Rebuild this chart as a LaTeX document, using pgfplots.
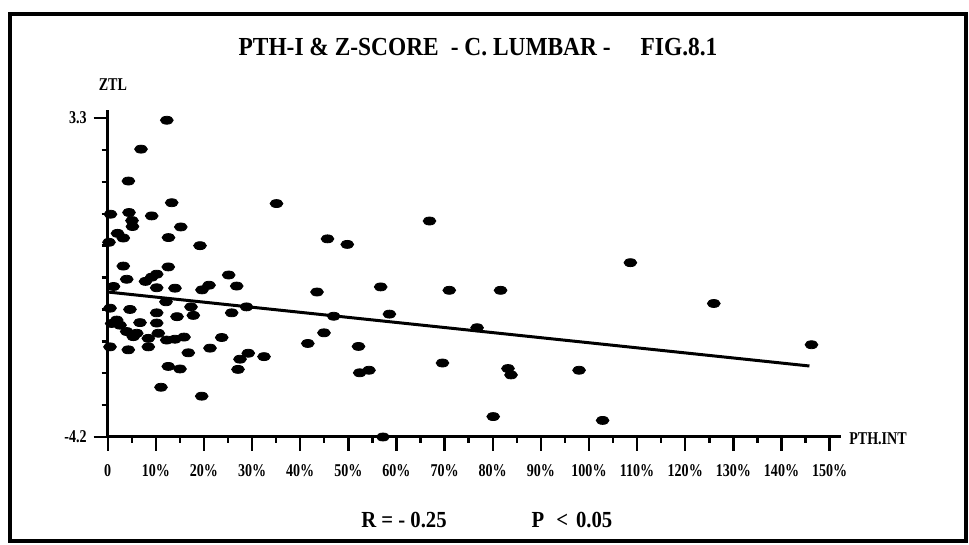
\documentclass[border=0pt]{standalone}
\usepackage{pgfplots}
\pgfplotsset{compat=1.18}
\usepackage{fontspec}
\newfontfamily\dm{Liberation Serif}[FakeStretch=0.78]
\newfontfamily\dmw{Liberation Serif}[FakeStretch=0.9]
\begin{document}
\begin{tikzpicture}[font=\dm\bfseries]
% 1 px of the reference = 0.5pt; axis corner (0,-4.2) sits at (0,0)
\useasboundingbox (-53.85pt,-54pt) rectangle (430.65pt,218.5pt);
\draw[line width=1.6pt] (-48.85pt,-52pt) rectangle (429.15pt,211.5pt);
\begin{axis}[
  at={(0,0)}, anchor=south west,
  scale only axis, width=366.5pt, height=163.7pt,
  xmin=0, xmax=152.3, ymin=-4.2, ymax=3.5,
  clip=false,
  axis x line*=bottom, axis y line*=left,
  axis line style={line width=1.5pt, -},
  xtick={0,10,...,150}, minor xtick={5,15,...,145},
  xticklabels={0,10\%,20\%,30\%,40\%,50\%,60\%,70\%,80\%,90\%,100\%,110\%,120\%,130\%,140\%,150\%},
  ytick={-4.2,3.3}, yticklabels={-4.2,3.3},
  minor ytick={-3.45,-2.7,-1.95,-1.2,-0.45,0.3,1.05,1.8,2.55},
  tick align=outside, major tick length=7pt, minor tick length=3pt,
  every tick/.style={black, line width=1.2pt},
  tick label style={font=\dm\bfseries\fontsize{9}{10}\selectfont},
  xticklabel style={yshift=-3pt},
  /pgf/number format/assume math mode=true,
]
\addplot[only marks, mark=*, mark size=2pt, mark options={xscale=1.6, fill=black, draw=black}]
coordinates {
(12.28,3.25) (6.92,2.57) (4.30,1.82) (13.30,1.31) (35.07,1.29)
(0.58,1.04) (4.43,1.08) (9.14,1.00) (5.05,0.89) (5.15,0.75)
(15.19,0.74) (66.86,0.88) (2.04,0.59) (3.24,0.48) (0.27,0.38)
(12.63,0.49) (19.18,0.30) (45.67,0.46) (49.78,0.33) (108.6,-0.10)
(3.24,-0.18) (12.59,-0.20) (3.95,-0.49) (7.85,-0.54) (9.14,-0.44)
(10.18,-0.37) (25.14,-0.39) (10.18,-0.69) (13.98,-0.70) (26.80,-0.65)
(19.59,-0.74) (21.05,-0.63) (1.21,-0.66) (43.49,-0.79) (56.72,-0.67)
(70.97,-0.75) (81.63,-0.75) (125.93,-1.06) (12.11,-1.02) (0.48,-1.17)
(4.63,-1.20) (10.18,-1.28) (17.31,-1.14) (25.76,-1.28) (28.84,-1.14)
(14.40,-1.37) (17.79,-1.34) (58.53,-1.31) (46.96,-1.36) (1.87,-1.45)
(2.56,-1.57) (0.83,-1.53) (6.71,-1.51) (10.18,-1.52) (3.95,-1.72)
(5.32,-1.84) (6.03,-1.76) (10.51,-1.76) (12.26,-1.92) (13.98,-1.90)
(15.85,-1.85) (8.44,-1.88) (8.44,-2.08) (23.69,-1.86) (0.48,-2.08)
(4.28,-2.15) (16.75,-2.22) (21.26,-2.11) (27.49,-2.37) (29.21,-2.23)
(32.48,-2.31) (44.94,-1.75) (41.58,-2.00) (76.75,-1.63) (52.11,-2.07)
(146.23,-2.03) (12.59,-2.54) (15.02,-2.60) (27.07,-2.61) (69.56,-2.46)
(52.36,-2.69) (54.29,-2.63) (83.17,-2.59) (83.80,-2.74) (97.94,-2.63)
(11.07,-3.03) (19.53,-3.24) (80.10,-3.72) (102.83,-3.81) (57.20,-4.20)
};
\addplot[line width=1.5pt] coordinates {(0,-0.79) (145.8,-2.53)};
\end{axis}
\node[font=\dmw\bfseries\fontsize{13}{15}\selectfont] at (185.15pt,195pt)
  {PTH-I \& Z-SCORE\hspace{6pt}- C. LUMBAR -\hspace{15pt}FIG.8.1};
\node[font=\dm\bfseries\fontsize{9}{10}\selectfont] at (2.6pt,176pt) {ZTL};
\node[font=\dm\bfseries\fontsize{9}{10}\selectfont] at (385.15pt,-1pt) {PTH.INT};
\node[font=\dmw\bfseries\fontsize{11.5}{13}\selectfont] at (148.15pt,-41.5pt) {R = - 0.25};
\node[font=\dmw\bfseries\fontsize{11.5}{13}\selectfont] at (232.15pt,-41.5pt) {P\hspace{6pt}<\hspace{4pt}0.05};
\end{tikzpicture}
\end{document}
